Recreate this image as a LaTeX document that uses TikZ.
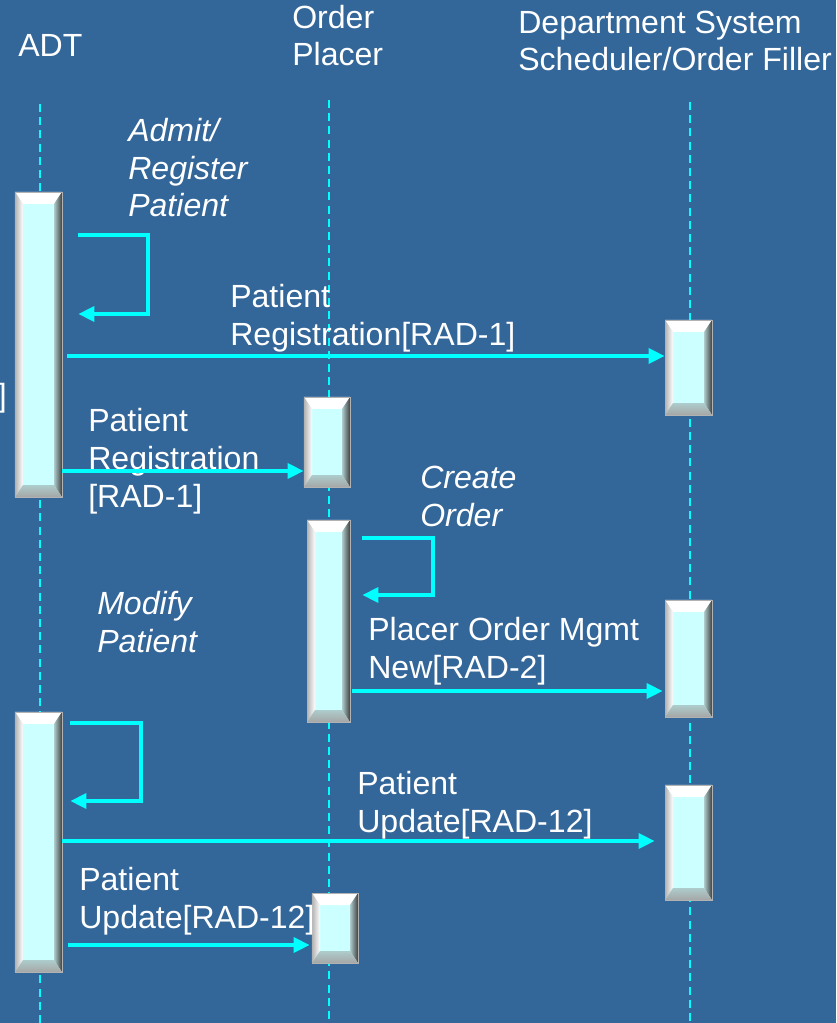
\documentclass[tikz,border=0pt]{standalone}
\usepackage{fontspec}
\setmainfont{Liberation Sans}
\usetikzlibrary{arrows.meta,calc}

\definecolor{bgblue}{RGB}{51,102,153}
\definecolor{boxcyan}{RGB}{204,255,255}
\definecolor{msgcyan}{RGB}{0,255,255}

\tikzset{
  actbox/.style={draw=gray!60,line width=0.6pt,fill=boxcyan,inner sep=0pt,minimum width=1.175cm,
    path picture={
      \coordinate (pbl) at (path picture bounding box.south west);
      \coordinate (ptr) at (path picture bounding box.north east);
      \coordinate (ptl) at (pbl |- ptr);
      \coordinate (pbr) at (ptr |- pbl);
      \fill[white] (ptl) -- (ptr) -- ($(ptr)+(-0.2cm,-0.3cm)$) -- ($(ptl)+(0.2cm,-0.3cm)$) -- cycle;
      \shade[left color=gray!60,right color=white] (ptl) -- ($(ptl)+(0.2cm,-0.3cm)$) -- ($(pbl)+(0.2cm,0.3cm)$) -- (pbl) -- cycle;
      \shade[left color=boxcyan!60!gray,right color=black!75] (ptr) -- (pbr) -- ($(pbr)+(-0.2cm,0.3cm)$) -- ($(ptr)+(-0.2cm,-0.3cm)$) -- cycle;
      \shade[top color=boxcyan!60!gray,bottom color=gray!70] (pbl) -- (pbr) -- ($(pbr)+(-0.2cm,0.3cm)$) -- ($(pbl)+(0.2cm,0.3cm)$) -- cycle;
    }},
  msg/.style={draw=msgcyan,line width=2.2pt,-{Triangle[length=0.4cm,width=0.38cm]}},
  life/.style={draw=msgcyan,line width=1.4pt,dash pattern=on 0.2cm off 0.13cm},
  lbl/.style={text=white,align=left,inner sep=0pt,anchor=base west,font=\fontsize{22.8}{26.9}\selectfont},
  ilbl/.style={lbl,font=\fontsize{22.8}{26.9}\selectfont\itshape}
}

\begin{document}
\begin{tikzpicture}[x=0.025cm,y=-0.025cm]
\useasboundingbox (0,0) rectangle (836,1023);
\fill[bgblue] (0,0) rectangle (836,1023);

% lifelines
\coordinate (adtTop) at (40,104);
\coordinate (adtEnd) at (40,1023);
\coordinate (opTop) at (329,100);
\coordinate (opEnd) at (329,1023);
\coordinate (dsTop) at (690,102);
\coordinate (dsEnd) at (690,1023);
\draw[life] (adtTop) -- (adtEnd);
\draw[life] (opTop) -- (opEnd);
\draw[life] (dsTop) -- (dsEnd);

% activations
\node[actbox,minimum height=7.625cm] (adt1) at (38.5,344.5) {};
\node[actbox,minimum height=2.375cm] (ds1) at (688.5,367.5) {};
\node[actbox,minimum width=1.15cm,minimum height=2.25cm] (op1) at (327,442) {};
\node[actbox,minimum width=1.075cm,minimum height=5.05cm] (op2) at (328.5,621) {};
\node[actbox,minimum height=2.925cm] (ds2) at (688.5,658.5) {};
\node[actbox,minimum height=6.5cm] (adt2) at (38.5,842) {};
\node[actbox,minimum height=2.875cm] (ds3) at (688.5,842.5) {};
\node[actbox,minimum width=1.15cm,minimum height=1.75cm] (op3) at (335,928) {};

% labels (anchored at the last line)
\node[lbl] (adtL) at (18,57) {ADT};
\node[lbl] (opL) at (292,66) {Order\\Placer};
\node[lbl] (dsL) at (518,71) {Department System\\Scheduler/Order Filler};
\node[ilbl] (admitL) at (128,217) {Admit/\\Register\\Patient};
\node[lbl] (regL) at (230,345) {Patient\\Registration[RAD-1]};
\node[lbl,anchor=base east] (cutL) at (7,406) {]};
\node[lbl] (reg2L) at (88,507) {Patient\\Registration\\{[RAD-1]}};
\node[ilbl] (createL) at (420,526) {Create\\Order};
\node[ilbl] (modifyL) at (97,652) {Modify\\Patient};
\node[lbl] (newL) at (368,678) {Placer Order Mgmt\\New[RAD-2]};
\node[lbl] (upd1L) at (357,832) {Patient\\Update[RAD-12]};
\node[lbl] (upd2L) at (79,928) {Patient\\Update[RAD-12]};

% self calls
\coordinate (loop1) at (148,235);
\coordinate (loop1b) at (148,314);
\draw[msg,shorten <=0.4cm,shorten >=0.4cm] (adt1.east |- loop1) -- (loop1) -- (loop1b) -- (adt1.east |- loop1b);
\coordinate (loop2) at (433,538);
\coordinate (loop2b) at (433,595);
\draw[msg,shorten <=0.3cm,shorten >=0.3cm] (op2.east |- loop2) -- (loop2) -- (loop2b) -- (op2.east |- loop2b);
\coordinate (loop3) at (141,723);
\coordinate (loop3b) at (141,801);
\draw[msg,shorten <=0.2cm,shorten >=0.2cm] (adt2.east |- loop3) -- (loop3) -- (loop3b) -- (adt2.east |- loop3b);

% messages
\coordinate (m1) at (0,356);
\coordinate (m2) at (0,471);
\coordinate (m3) at (0,691);
\coordinate (m4) at (0,841);
\coordinate (m5) at (0,945);
\draw[msg,shorten <=0.12cm] (adt1.east |- m1) -- (ds1.west |- m1);
\draw[msg] (adt1.east |- m2) -- (op1.west |- m2);
\draw[msg,shorten <=0.05cm,shorten >=0.05cm] (op2.east |- m3) -- (ds2.west |- m3);
\draw[msg,shorten >=0.25cm] (adt2.east |- m4) -- (ds3.west |- m4);
\draw[msg,shorten <=0.15cm,shorten >=0.05cm] (adt2.east |- m5) -- (op3.west |- m5);
\end{tikzpicture}
\end{document}
